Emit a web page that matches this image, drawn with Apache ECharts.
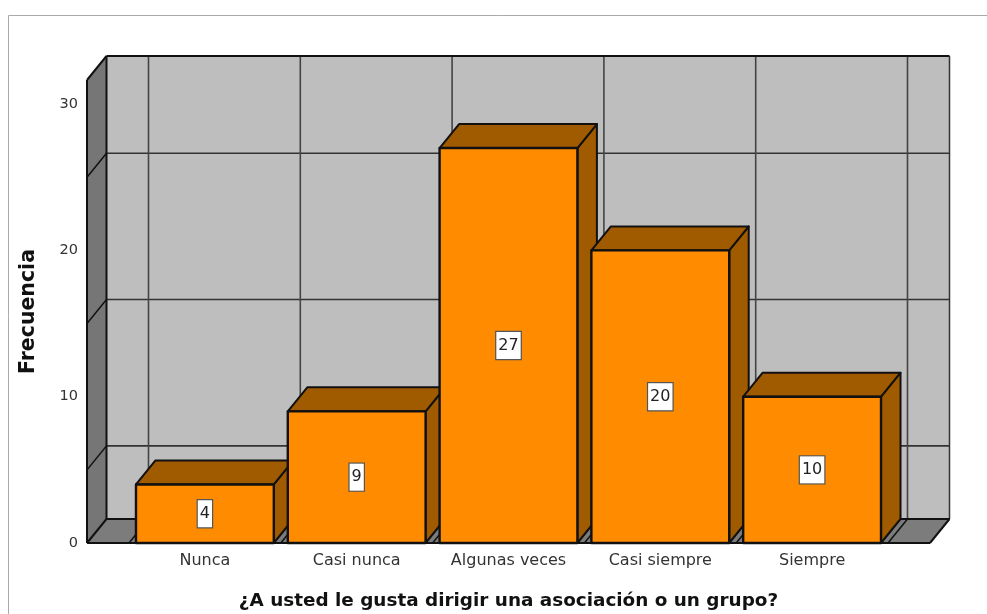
<!DOCTYPE html>
<html>
<head>
<meta charset="utf-8">
<style>html,body{margin:0;padding:0;background:#fff;overflow:hidden}#c{width:987px;height:614px}</style>
<script src="https://cdn.jsdelivr.net/npm/echarts@6/dist/echarts.min.js"></script>
</head>
<body>
<div id="c"></div>
<script>
const categories = ['Nunca', 'Casi nunca', 'Algunas veces', 'Casi siempre', 'Siempre'];
const frecuencia = [4, 9, 27, 20, 10];
const wallGridValues = [5, 15, 25];
const yAxisTop = 31.65;
const yTickStep = 10;
const xTitle = '¿A usted le gusta dirigir una asociación o un grupo?';
const yTitle = 'Frecuencia';

const DX = 19.5, DY = 24, PAD = 42, BAR_RATIO = 138 / 152;
const ORANGE = '#FF8C00', BROWN = '#A05A00', WALL = '#BEBEBE', SIDE = '#767676', FLOOR = '#7C7C7C';
const EDGE = '#111', GRID = '#333';
const FONT = '"DejaVu Sans"';

function poly(points, fill, stroke, lw) {
  return { type: 'polygon', shape: { points }, style: { fill, stroke: stroke || 'none', lineWidth: lw || 0, lineJoin: 'round' } };
}
function line(x1, y1, x2, y2, stroke, lw) {
  return { type: 'line', shape: { x1, y1, x2, y2 }, style: { stroke, lineWidth: lw, fill: 'none' } };
}

function renderWalls(params, api) {
  const band = api.size([1, 0])[0];
  const first = api.coord([0, 0]);
  const last = api.coord([categories.length - 1, 0]);
  const y0 = first[1];
  const yT = api.coord([0, yAxisTop])[1];
  const xL = first[0] - band / 2 - PAD;
  const xR = last[0] + band / 2 + PAD;
  const c = [];
  c.push(poly([[xL + DX, yT - DY], [xR + DX, yT - DY], [xR + DX, y0 - DY], [xL + DX, y0 - DY]], WALL));
  c.push(poly([[xL, yT], [xL + DX, yT - DY], [xL + DX, y0 - DY], [xL, y0]], SIDE));
  c.push(poly([[xL, y0], [xL + DX, y0 - DY], [xR + DX, y0 - DY], [xR, y0]], FLOOR));
  wallGridValues.forEach(v => {
    const y = api.coord([0, v])[1];
    c.push(line(xL, y, xL + DX, y - DY, EDGE, 1.5));
    c.push(line(xL + DX, y - DY, xR + DX, y - DY, GRID, 1.6));
  });
  for (let i = 0; i <= categories.length; i++) {
    const x = first[0] - band / 2 + i * band;
    c.push(line(x + DX, yT - DY, x + DX, y0 - DY, '#444', 1.6));
    c.push(line(x, y0, x + DX, y0 - DY, EDGE, 1.5));
  }
  c.push(line(xL + DX, yT - DY, xR + DX, yT - DY, EDGE, 2));
  c.push(line(xR + DX, yT - DY, xR + DX, y0 - DY, '#333', 1.5));
  c.push(line(xL + DX, yT - DY, xL + DX, y0 - DY, EDGE, 2));
  c.push(line(xL, yT, xL + DX, yT - DY, EDGE, 2));
  c.push(line(xL, yT, xL, y0, EDGE, 2));
  c.push(line(xL + DX, y0 - DY, xR + DX, y0 - DY, EDGE, 2));
  c.push(line(xR, y0, xR + DX, y0 - DY, EDGE, 2));
  c.push(line(xL, y0, xR, y0, EDGE, 2));
  c.push(line(xL, y0, xL + DX, y0 - DY, EDGE, 2));
  return { type: 'group', children: c };
}

function renderBar(params, api) {
  const idx = api.value(0), val = api.value(1);
  const band = api.size([1, 0])[0];
  const w = band * BAR_RATIO;
  const top = api.coord([idx, val]);
  const bottom = api.coord([idx, 0]);
  const mid = api.coord([idx, val / 2]);
  const l = top[0] - w / 2, r = top[0] + w / 2, t = top[1], b = bottom[1];
  const st = EDGE;
  return {
    type: 'group',
    children: [
      poly([[r, t], [r + DX, t - DY], [r + DX, b - DY], [r, b]], BROWN, st, 2),
      poly([[l, t], [l + DX, t - DY], [r + DX, t - DY], [r, t]], BROWN, st, 2),
      poly([[l, t], [r, t], [r, b], [l, b]], ORANGE, st, 2.4),
      {
        type: 'text', x: mid[0], y: mid[1],
        style: {
          text: String(val), font: '16px ' + FONT, fill: '#222', align: 'center', verticalAlign: 'middle',
          backgroundColor: '#fff', borderColor: '#555', borderWidth: 1.2, padding: [6, 2, 5, 2]
        }
      }
    ]
  };
}

const chart = echarts.init(document.getElementById('c'), null, { renderer: 'canvas' });
chart.setOption({
  animation: false,
  backgroundColor: '#fff',
  graphic: [{
    type: 'rect', silent: true, z: -10,
    shape: { x: 8.5, y: 15.5, width: 1100, height: 800 },
    style: { fill: 'none', stroke: '#aaa', lineWidth: 1 }
  }],
  grid: { left: 129, right: 99, top: 80, bottom: 71, outerBoundsMode: 'none' },
  xAxis: {
    type: 'category',
    data: categories,
    name: xTitle,
    nameLocation: 'middle',
    nameGap: 49,
    nameTextStyle: { fontFamily: FONT, fontSize: 18.4, fontWeight: 'bold', color: '#111' },
    axisLine: { show: false },
    axisTick: { show: false },
    axisLabel: { margin: 10, fontFamily: FONT, fontSize: 16, color: '#333', interval: 0 },
    splitLine: { show: false }
  },
  yAxis: {
    type: 'value',
    min: 0,
    max: yAxisTop,
    interval: yTickStep,
    name: yTitle,
    nameLocation: 'middle',
    nameGap: 90,
    nameTextStyle: { fontFamily: FONT, fontSize: 20.5, fontWeight: 'bold', color: '#111' },
    axisLine: { show: false },
    axisTick: { show: false },
    splitLine: { show: false },
    axisLabel: { margin: 51, showMaxLabel: false, fontFamily: FONT, fontSize: 14.5, color: '#333', padding: [4, 0, 0, 0] }
  },
  series: [
    {
      type: 'custom', name: 'Paredes', coordinateSystem: 'cartesian2d', z: 1, silent: true,
      renderItem: renderWalls, data: [[0, 0]], encode: { x: 0, y: 1 }
    },
    {
      type: 'custom', name: 'Frecuencia', coordinateSystem: 'cartesian2d', z: 2,
      renderItem: renderBar, data: frecuencia.map((v, i) => [i, v]), encode: { x: 0, y: 1 }
    }
  ]
});
</script>
</body>
</html>
